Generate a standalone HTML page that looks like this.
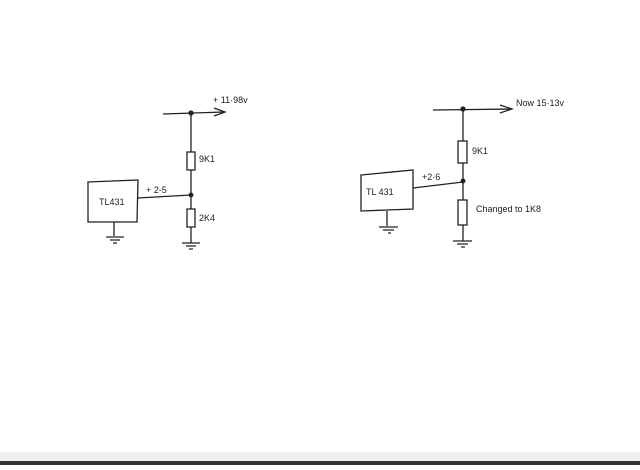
<!DOCTYPE html>
<html><head><style>body{margin:0;background:#fff;width:640px;height:465px;overflow:hidden}</style></head><body>
<svg width="640" height="465" xmlns="http://www.w3.org/2000/svg" font-family="Liberation Sans, sans-serif" fill="none" stroke="#222" stroke-width="1.3">
<rect x="0" y="452" width="640" height="10" fill="#f0f0f0" stroke="none"/>
<rect x="0" y="461" width="640" height="4" fill="#333" stroke="none"/>
<!-- left -->
<path d="M163 114 L224 112"/><path d="M214 108 L225 112 L214 116" />
<circle cx="191" cy="113" r="2" fill="#222"/>
<path d="M191 113 V152 M191 170 V209 M191 227 V243"/>
<rect x="187" y="152" width="8" height="18"/>
<rect x="187" y="209" width="8" height="18"/>
<circle cx="191" cy="195" r="1.8" fill="#222"/>
<path d="M88 182 L138 180 L137 222 L88 222 Z"/>
<path d="M138 198 L191 195"/>
<path d="M114 222 V236 M106 237 H124 M110 240 H120 M113 243 H117"/>
<path d="M182 243 H200 M186 246 H196 M189 249 H193"/>
<g fill="#222" stroke="none" font-size="9">
<text x="213" y="103">+ 11·98v</text>
<text x="199" y="162">9K1</text>
<text x="146" y="193">+ 2-5</text>
<text x="99" y="205">TL431</text>
<text x="199" y="221">2K4</text>
</g>
<!-- right -->
<path d="M433 110 L512 109"/><path d="M500 105 L512 109 L500 113"/>
<circle cx="463" cy="109" r="2" fill="#222"/>
<path d="M463 109 V141 M463 163 V200 M463 225 V241"/>
<rect x="458" y="141" width="9" height="22"/>
<rect x="458" y="200" width="9" height="25"/>
<circle cx="463" cy="181" r="1.8" fill="#222"/>
<path d="M361 175 L413 170 L413 209 L361 211 Z"/>
<path d="M413 188 L463 182"/>
<path d="M387 211 V226 M379 227 H398 M383 230 H394 M388 233 H391"/>
<path d="M453 241 H472 M457 244 H468 M461 247 H465"/>
<g fill="#222" stroke="none" font-size="9">
<text x="516" y="106">Now 15·13v</text>
<text x="472" y="154">9K1</text>
<text x="422" y="180">+2·6</text>
<text x="366" y="195">TL 431</text>
<text x="476" y="212">Changed to 1K8</text>
</g>
</svg>
</body></html>
